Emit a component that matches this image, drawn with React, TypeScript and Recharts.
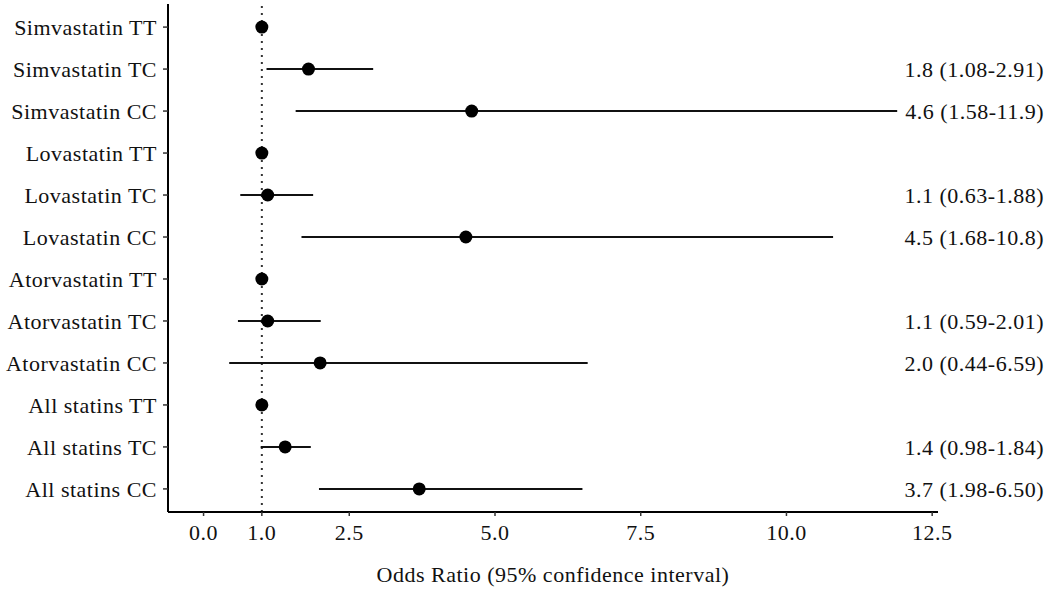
import {
  ScatterChart,
  Scatter,
  XAxis,
  YAxis,
  ErrorBar,
  ReferenceLine,
} from 'recharts';

const groups = [
  'Simvastatin TT',
  'Simvastatin TC',
  'Simvastatin CC',
  'Lovastatin TT',
  'Lovastatin TC',
  'Lovastatin CC',
  'Atorvastatin TT',
  'Atorvastatin TC',
  'Atorvastatin CC',
  'All statins TT',
  'All statins TC',
  'All statins CC',
];
const oddsRatio = [1.0, 1.8, 4.6, 1.0, 1.1, 4.5, 1.0, 1.1, 2.0, 1.0, 1.4, 3.7];
const ciLow = [1.0, 1.08, 1.58, 1.0, 0.63, 1.68, 1.0, 0.59, 0.44, 1.0, 0.98, 1.98];
const ciHigh = [1.0, 2.91, 11.9, 1.0, 1.88, 10.8, 1.0, 2.01, 6.59, 1.0, 1.84, 6.5];
const ciText = [
  '',
  '1.8 (1.08-2.91)',
  '4.6 (1.58-11.9)',
  '',
  '1.1 (0.63-1.88)',
  '4.5 (1.68-10.8)',
  '',
  '1.1 (0.59-2.01)',
  '2.0 (0.44-6.59)',
  '',
  '1.4 (0.98-1.84)',
  '3.7 (1.98-6.50)',
];
const xTicks = [0, 1, 2.5, 5, 7.5, 10, 12.5];

const W = 1050;
const H = 590;
const FONT = '"Liberation Serif", "Times New Roman", serif';
const INK = '#111';

const rows = groups.map((g, i) => ({
  row: i + 1,
  group: g,
  or: oddsRatio[i],
  err: [oddsRatio[i] - ciLow[i], ciHigh[i] - oddsRatio[i]],
  note: ciText[i],
}));
const rowTicks = rows.map((r) => r.row);

const tickStyle = { fontSize: 22, fill: INK, fontFamily: FONT, letterSpacing: 0.5 };

const Dot = (props: any) => <circle cx={props.cx} cy={props.cy} r={6.5} fill="#000" />;

// annotation column on the right, aligned to each row
const Note = (props: any) => (
  <text
    x={W - 6}
    y={props.cy}
    dy="0.355em"
    textAnchor="end"
    fontSize={22}
    fill={INK}
    fontFamily={FONT}
    letterSpacing={0.5}
  >
    {props.payload.note}
  </text>
);

export default function App() {
  return (
    <div style={{ position: 'absolute', left: 0, top: 0, background: '#fff' }}>
      <ScatterChart width={W} height={H} margin={{ top: 4, right: 112, bottom: 0, left: 0 }}>
        <XAxis
          type="number"
          dataKey="or"
          domain={[-0.61, 12.6]}
          ticks={xTicks}
          tickFormatter={(v: number) => v.toFixed(1)}
          interval={0}
          height={78}
          tick={tickStyle}
          tickSize={4}
          tickMargin={8}
          axisLine={{ stroke: '#000', strokeWidth: 2 }}
          tickLine={{ stroke: '#333', strokeWidth: 1.5 }}
          label={{
            value: 'Odds Ratio (95% confidence interval)',
            position: 'insideBottom',
            offset: 8,
            style: { fontSize: 22, fill: INK, fontFamily: FONT, letterSpacing: 0.5 },
          }}
        />
        <YAxis
          type="number"
          dataKey="row"
          domain={[0.45, 12.55]}
          reversed
          ticks={rowTicks}
          interval={0}
          tickFormatter={(v: number) => groups[v - 1]}
          width={168}
          tick={tickStyle}
          tickSize={5}
          tickMargin={6}
          axisLine={{ stroke: '#000', strokeWidth: 2 }}
          tickLine={{ stroke: '#333', strokeWidth: 1.5 }}
        />
        <ReferenceLine x={1} stroke="#333" strokeWidth={2} strokeDasharray="2 5" />
        <Scatter data={rows} shape={<Dot />} isAnimationActive={false}>
          <ErrorBar
            dataKey="err"
            direction="x"
            width={0}
            stroke="#111"
            strokeWidth={2}
            isAnimationActive={false}
          />
        </Scatter>
        <Scatter data={rows} shape={<Note />} isAnimationActive={false} />
      </ScatterChart>
    </div>
  );
}
